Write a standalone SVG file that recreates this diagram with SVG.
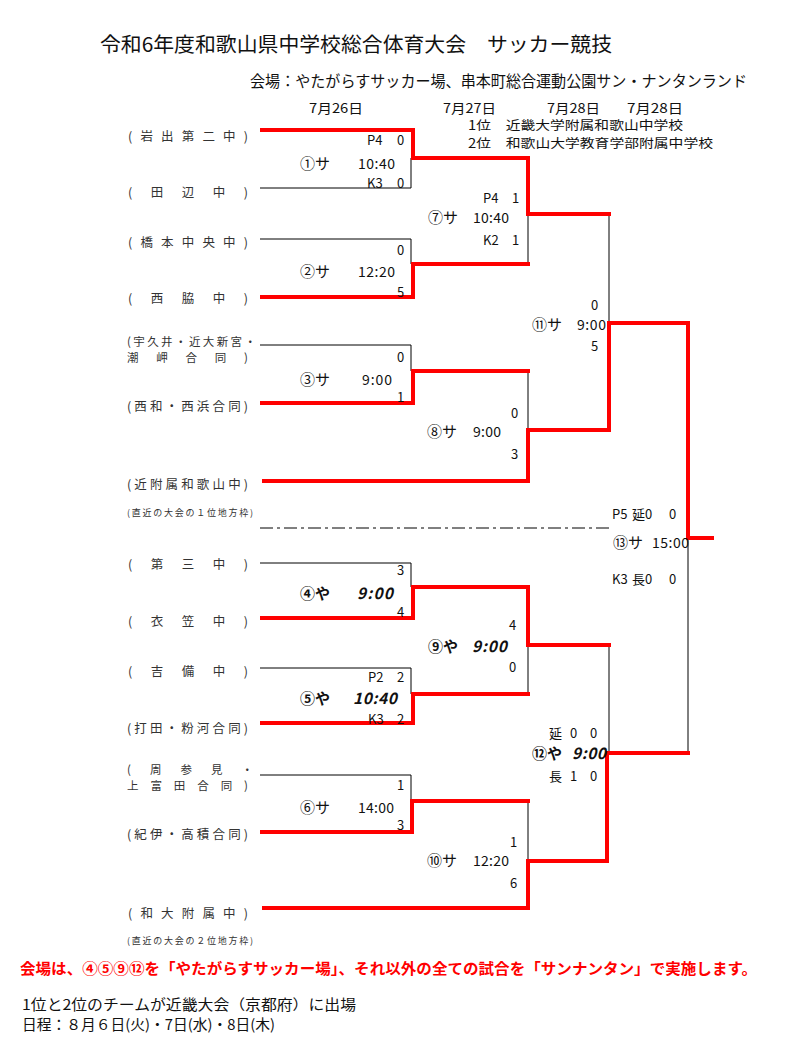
<svg xmlns="http://www.w3.org/2000/svg" width="790" height="1064" viewBox="0 0 790 1064">
<style>
text{font-family:"Noto Sans CJK JP","Noto Sans",sans-serif;fill:#111}
.lbl{font-size:12.5px;fill:#333}
.l2{font-size:11.5px;fill:#333}
.sm{font-size:9px;fill:#333}
.sc{font-size:13px}
.mt{font-size:15px}
.tm{font-size:14px}
.bi{font-size:15.5px;font-weight:bold;font-style:italic}
.bo{font-weight:bold}
.b{fill:none;stroke:#000;stroke-width:1}
.r{fill:none;stroke:#f00;stroke-width:4;stroke-linejoin:miter;stroke-linecap:square}
</style>
<rect width="790" height="1064" fill="#fff"/>
<g id="header">
<text x="100" y="52" font-size="20" textLength="512" lengthAdjust="spacingAndGlyphs">令和6年度和歌山県中学校総合体育大会　サッカー競技</text>
<text x="250" y="87" font-size="15.5" textLength="497" lengthAdjust="spacingAndGlyphs">会場：やたがらすサッカー場、串本町総合運動公園サン・ナンタンランド</text>
<text x="309" y="113" class="sc" textLength="54" lengthAdjust="spacingAndGlyphs">7月26日</text>
<text x="443" y="113" class="sc" textLength="53" lengthAdjust="spacingAndGlyphs">7月27日</text>
<text x="547" y="113" class="sc" textLength="53" lengthAdjust="spacingAndGlyphs">7月28日</text>
<text x="627" y="113" class="sc" textLength="56" lengthAdjust="spacingAndGlyphs">7月28日</text>
<text x="468" y="130" font-size="12.5" textLength="215" lengthAdjust="spacingAndGlyphs">1位　近畿大学附属和歌山中学校</text>
<text x="468" y="148" font-size="12.5" textLength="245" lengthAdjust="spacingAndGlyphs">2位　和歌山大学教育学部附属中学校</text>
</g>
<g id="connectors">
<path class="b" d="M260,188 H411 V158"/>
<path class="b" d="M260,239 H411 V264"/>
<path class="b" d="M528,214 V264"/>
<path class="b" d="M260,345 H411 V371"/>
<path class="b" d="M528,371 V430"/>
<path class="b" d="M609,214 V323"/>
<path class="b" d="M688,538 V753"/>
<path class="b" d="M260,563 H411 V587"/>
<path class="b" d="M528,645 V694"/>
<path class="b" d="M260,668 H411 V694"/>
<path class="b" d="M609,645 V753"/>
<path class="b" d="M260,775 H411 V801"/>
<path class="b" d="M528,801 V860"/>
<path class="b" d="M260,528 H610" stroke-dasharray="13 4 3 4"/>
<path class="r" d="M262,130 H413 V158 H528 V214 H609"/>
<path class="r" d="M262,297 H413 V264 H528"/>
<path class="r" d="M262,403 H413 V371 H528"/>
<path class="r" d="M264,481 H528 V430 H609 V323 H688 V538 H712"/>
<path class="r" d="M262,618 H413 V587 H528 V645 H609"/>
<path class="r" d="M262,723 H413 V694 H528"/>
<path class="r" d="M262,832 H412 V801 H528"/>
<path class="r" d="M264,908 H528 V861 H607 V753 H688"/>
</g>
<g id="team-iwade"><text class="lbl" x="128" y="141" textLength="120" lengthAdjust="spacing">(岩出第二中)</text></g>
<g id="team-tanabe"><text class="lbl" x="128" y="197" textLength="120" lengthAdjust="spacing">(田辺中)</text></g>
<g id="team-hashimoto"><text class="lbl" x="128" y="247" textLength="120" lengthAdjust="spacing">(橋本中央中)</text></g>
<g id="team-nishiwaki"><text class="lbl" x="128" y="303" textLength="120" lengthAdjust="spacing">(西脇中)</text></g>
<g id="team-ukui"><text class="l2" x="127" y="346" textLength="129" lengthAdjust="spacing">(宇久井・近大新宮・</text><text class="l2" x="127" y="362" textLength="121" lengthAdjust="spacing">潮岬合同)</text></g>
<g id="team-seiwa"><text class="lbl" x="127" y="411" textLength="121" lengthAdjust="spacing">(西和・西浜合同)</text></g>
<g id="team-kinpu"><text class="lbl" x="127" y="489" textLength="121" lengthAdjust="spacing">(近附属和歌山中)</text><text class="sm" x="127" y="516" textLength="126" lengthAdjust="spacing">(直近の大会の１位地方枠)</text></g>
<g id="team-daisan"><text class="lbl" x="128" y="569" textLength="120" lengthAdjust="spacing">(第三中)</text></g>
<g id="team-kinugasa"><text class="lbl" x="128" y="626" textLength="120" lengthAdjust="spacing">(衣笠中)</text></g>
<g id="team-kibi"><text class="lbl" x="128" y="676" textLength="120" lengthAdjust="spacing">(吉備中)</text></g>
<g id="team-uchita"><text class="lbl" x="127" y="733" textLength="121" lengthAdjust="spacing">(打田・粉河合同)</text></g>
<g id="team-susami"><text class="l2" x="127" y="774" textLength="126" lengthAdjust="spacing">(周参見・</text><text class="l2" x="127" y="790" textLength="121" lengthAdjust="spacing">上富田合同)</text></g>
<g id="team-kii"><text class="lbl" x="127" y="839" textLength="121" lengthAdjust="spacing">(紀伊・高積合同)</text></g>
<g id="team-wadai"><text class="lbl" x="128" y="918" textLength="120" lengthAdjust="spacing">(和大附属中)</text><text class="sm" x="127" y="944" textLength="126" lengthAdjust="spacing">(直近の大会の２位地方枠)</text></g>
<g id="m1"><text class="sc" y="145"><tspan x="367">P4</tspan><tspan x="397">0</tspan></text><text class="mt" x="300" y="169">①サ</text><text class="tm" x="358" y="169" textLength="37">10:40</text><text class="sc" y="188"><tspan x="367">K3</tspan><tspan x="397">0</tspan></text></g>
<g id="m2"><text class="sc" x="397" y="255">0</text><text class="mt" x="300" y="277">②サ</text><text class="tm" x="358" y="277" textLength="37">12:20</text><text class="sc" x="397" y="297">5</text></g>
<g id="m3"><text class="sc" x="397" y="362">0</text><text class="mt" x="300" y="385">③サ</text><text class="tm" x="362" y="385" textLength="30">9:00</text><text class="sc" x="397" y="402">1</text></g>
<g id="m4"><text class="sc" x="397" y="575">3</text><text class="mt bo" x="300" y="599">④や</text><text class="bi" x="357" y="599" textLength="36">9:00</text><text class="sc" x="397" y="617">4</text></g>
<g id="m5"><text class="sc" y="682"><tspan x="368">P2</tspan><tspan x="397">2</tspan></text><text class="mt bo" x="300" y="704">⑤や</text><text class="bi" x="353" y="704" textLength="44">10:40</text><text class="sc" y="724"><tspan x="368">K3</tspan><tspan x="397">2</tspan></text></g>
<g id="m6"><text class="sc" x="397" y="790">1</text><text class="mt" x="300" y="813">⑥サ</text><text class="tm" x="358" y="813" textLength="36">14:00</text><text class="sc" x="397" y="830">3</text></g>
<g id="m7"><text class="sc" y="203"><tspan x="483">P4</tspan><tspan x="512">1</tspan></text><text class="mt" x="428" y="223">⑦サ</text><text class="tm" x="473" y="223" textLength="36">10:40</text><text class="sc" y="245"><tspan x="483">K2</tspan><tspan x="512">1</tspan></text></g>
<g id="m8"><text class="sc" x="511" y="418">0</text><text class="mt" x="427" y="437">⑧サ</text><text class="tm" x="473" y="437" textLength="28">9:00</text><text class="sc" x="511" y="459">3</text></g>
<g id="m9"><text class="sc" x="509" y="630">4</text><text class="mt bo" x="428" y="652">⑨や</text><text class="bi" x="472" y="652" textLength="35">9:00</text><text class="sc" x="509" y="672">0</text></g>
<g id="m10"><text class="sc" x="510" y="847">1</text><text class="mt" x="427" y="866">⑩サ</text><text class="tm" x="473" y="866" textLength="36">12:20</text><text class="sc" x="510" y="888">6</text></g>
<g id="m11"><text class="sc" x="591" y="310">0</text><text class="mt" x="532" y="330">⑪サ</text><text class="tm" x="577" y="330" textLength="29">9:00</text><text class="sc" x="591" y="351">5</text></g>
<g id="m12"><text class="sc" y="738"><tspan x="549">延</tspan><tspan x="570">0</tspan><tspan x="590">0</tspan></text><text class="mt bo" x="532" y="759">⑫や</text><text class="bi" x="572" y="759" textLength="34">9:00</text><text class="sc" y="781"><tspan x="549">長</tspan><tspan x="570">1</tspan><tspan x="590">0</tspan></text></g>
<g id="m13"><text class="sc" y="519"><tspan x="612">P5</tspan><tspan x="632">延0</tspan><tspan x="669">0</tspan></text><text class="mt" x="613" y="548">⑬サ</text><text class="tm" x="652" y="548" textLength="37">15:00</text><text class="sc" y="584"><tspan x="612">K3</tspan><tspan x="632">長0</tspan><tspan x="669">0</tspan></text></g>
<g id="notes">
<text x="20" y="974" font-size="15" font-weight="bold" style="fill:#f00" textLength="737" lengthAdjust="spacingAndGlyphs">会場は、④⑤⑨⑫を「やたがらすサッカー場」、それ以外の全ての試合を「サンナンタン」で実施します。</text>
<text x="22" y="1010" font-size="14.5" textLength="334" lengthAdjust="spacingAndGlyphs">1位と2位のチームが近畿大会（京都府）に出場</text>
<text x="22" y="1030" font-size="14.5" textLength="253" lengthAdjust="spacingAndGlyphs">日程：８月６日(火)・7日(水)・8日(木)</text>
</g>
</svg>
